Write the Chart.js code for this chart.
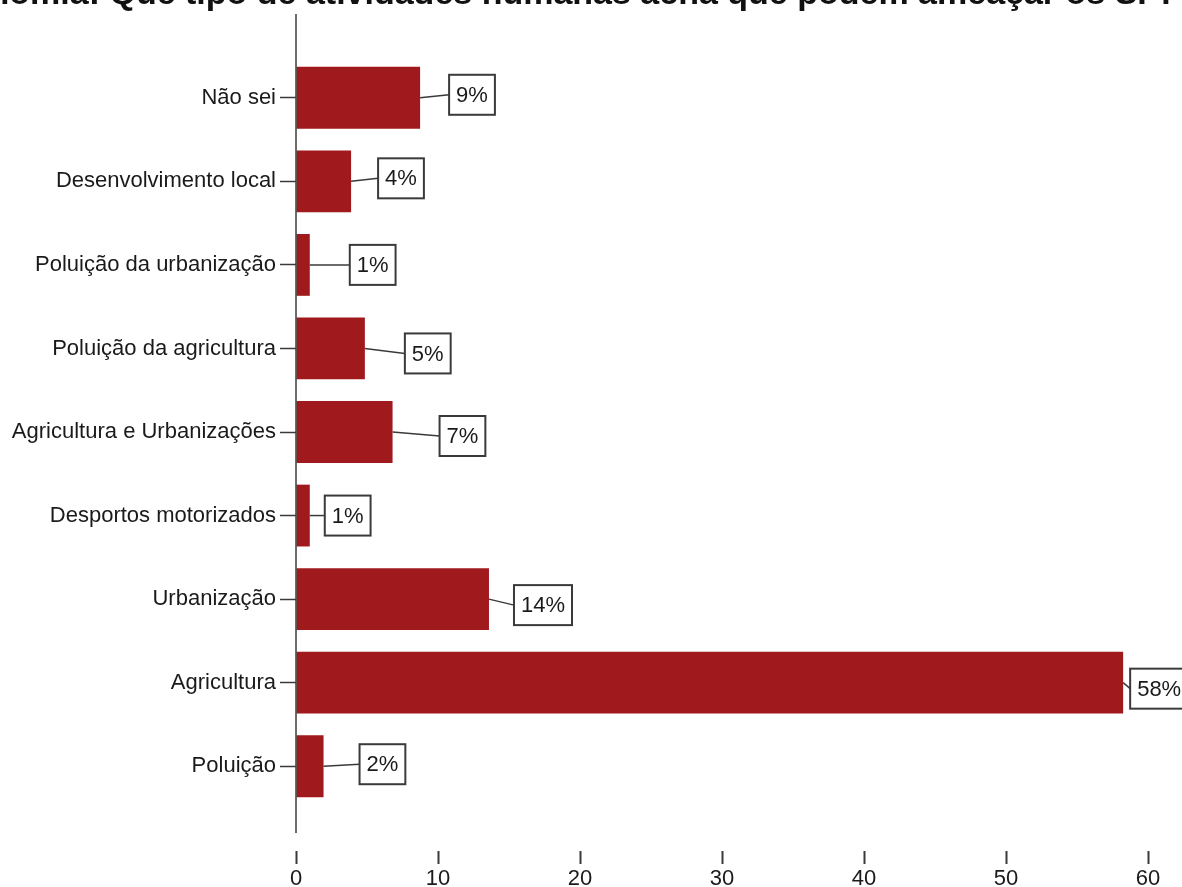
<!DOCTYPE html>
<html lang="pt">
<head>
<meta charset="utf-8">
<title>Atividades humanas que podem ameaçar os SI</title>
<script src="https://cdn.jsdelivr.net/npm/chart.js@4.4.1/dist/chart.umd.min.js"></script>
<style>
  html, body { margin: 0; padding: 0; background: #fff; }
  canvas { display: block; }
</style>
</head>
<body>
<canvas id="chart" width="1182" height="887"></canvas>
<script>
const titleText = 'nomia: Que tipo de atividades humanas acha que podem ameaçar os SI ?';

const categories = [
  'Não sei',
  'Desenvolvimento local',
  'Poluição da urbanização',
  'Poluição da agricultura',
  'Agricultura e Urbanizações',
  'Desportos motorizados',
  'Urbanização',
  'Agricultura',
  'Poluição'
];
// percentage of answers per category
const percentages = [8.74, 3.88, 0.97, 4.85, 6.80, 0.97, 13.59, 58.25, 1.94];
const xTicks = [0, 10, 20, 30, 40, 50, 60];

// offsets of each value box from the end of its bar (gap to the right, vertical shift)
const boxGap = [29, 27, 40, 40, 47, 15, 25, 7, 36];
const boxShift = [-3, -3, 0, 5, 4, 0, 6, 6, -2];

const FONT = '"Liberation Sans", Arial, sans-serif';
const INK = '#1a1a1a';
const LINE = '#3a3a3a';

const decor = {
  id: 'decor',
  afterDatasetsDraw(chart) {
    const { ctx, scales: { x } } = chart;
    const x0 = x.getPixelForValue(0);
    ctx.save();

    // vertical axis line, longer than the plot area
    ctx.strokeStyle = LINE;
    ctx.lineWidth = 1.5;
    ctx.beginPath();
    ctx.moveTo(x0, 14);
    ctx.lineTo(x0, 833);
    ctx.stroke();

    // boxed value labels with leader lines
    ctx.font = '22px ' + FONT;
    ctx.textAlign = 'center';
    ctx.textBaseline = 'middle';
    chart.getDatasetMeta(0).data.forEach((bar, i) => {
      const label = Math.round(percentages[i]) + '%';
      const w = ctx.measureText(label).width + 14;
      const h = 40;
      const bx = bar.x + boxGap[i];
      const cy = bar.y + boxShift[i];

      ctx.strokeStyle = LINE;
      ctx.lineWidth = 1.5;
      ctx.beginPath();
      ctx.moveTo(bar.x, bar.y);
      ctx.lineTo(bx, cy);
      ctx.stroke();

      ctx.fillStyle = '#fff';
      ctx.fillRect(bx, cy - h / 2, w, h);
      ctx.lineWidth = 2;
      ctx.strokeRect(bx, cy - h / 2, w, h);

      ctx.fillStyle = INK;
      ctx.fillText(label, bx + w / 2, cy + 1);
    });
    ctx.restore();
  },
  afterDraw(chart) {
    // chart title, its upper part runs off the top edge
    const { ctx } = chart;
    ctx.save();
    ctx.font = 'bold 34px ' + FONT;
    ctx.fillStyle = '#111';
    ctx.textAlign = 'right';
    ctx.textBaseline = 'alphabetic';
    ctx.fillText(titleText, 1177, 4);
    ctx.restore();
  }
};

new Chart(document.getElementById('chart'), {
  type: 'bar',
  data: {
    labels: categories,
    datasets: [{
      data: percentages,
      backgroundColor: '#a0191d',
      borderWidth: 0,
      categoryPercentage: 1,
      barPercentage: 0.74
    }]
  },
  options: {
    indexAxis: 'y',
    responsive: false,
    animation: false,
    layout: { padding: { top: 56, right: 34, left: 0, bottom: 0 } },
    plugins: {
      legend: { display: false },
      tooltip: { enabled: false },
      title: { display: false }
    },
    scales: {
      x: {
        min: 0,
        max: 60,
        afterBuildTicks: s => { s.ticks = xTicks.map(v => ({ value: v })); },
        afterFit: s => { s.height = 79; },
        border: { display: false },
        grid: {
          drawOnChartArea: false,
          tickLength: 56,
          tickColor: LINE,
          tickWidth: 2,
          tickBorderDash: [0, 43, 13, 100]
        },
        ticks: {
          padding: 4,
          color: INK,
          font: { family: FONT, size: 22, lineHeight: 1 }
        }
      },
      y: {
        afterFit: s => { s.width = 296; },
        border: { display: false },
        grid: {
          offset: false,
          drawOnChartArea: false,
          tickLength: 16,
          tickColor: LINE,
          tickWidth: 1.5
        },
        ticks: {
          padding: 4,
          color: INK,
          font: { family: FONT, size: 22 }
        }
      }
    }
  },
  plugins: [decor]
});
</script>
</body>
</html>
